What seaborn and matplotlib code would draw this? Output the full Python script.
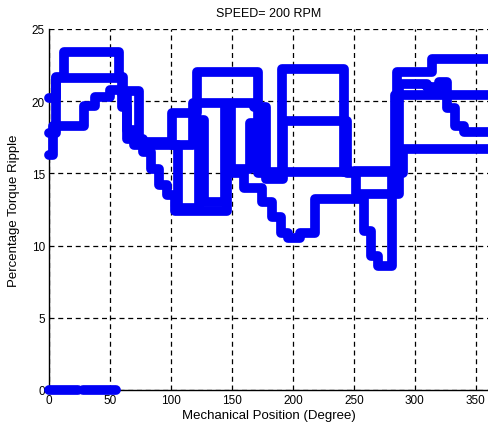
import numpy as np
import pandas as pd
import matplotlib
matplotlib.use("Agg")
import matplotlib.pyplot as plt
import seaborn as sns

# Step traces of percentage torque ripple against rotor position (degrees).
# Each pair holds the positions where the level changes and the level held from there.
upper_pos = [0, 6, 12, 57, 61, 74, 101, 121, 171, 191, 242, 285, 314, 362]
upper_val = [20.2, 21.7, 23.4, 21.7, 20.7, 17.2, 19.2, 22.0, 15.0, 22.2, 15.1, 22.0, 22.9, 22.9]

mid_pos = [0, 6, 60, 64, 70, 118, 168, 178, 192, 244, 250, 284, 362]
mid_val = [17.8, 21.6, 20.5, 18.0, 17.0, 19.9, 19.6, 14.6, 18.6, 15.0, 15.2, 20.4, 20.4]

lower_pos = [0, 3, 29, 38, 50, 60, 64, 77, 84, 90, 97, 103, 146, 160, 175, 183,
             190, 196, 206, 218, 258, 264, 270, 281, 290, 362]
lower_val = [16.3, 18.3, 19.7, 20.3, 20.8, 19.6, 17.4, 16.5, 15.3, 14.2, 13.5, 12.4, 15.0, 14.0, 13.0, 12.0,
             10.9, 10.5, 10.9, 13.2, 11.0, 9.3, 8.6, 15.0, 16.7, 16.7]

detail_pos = [101, 106, 123, 127, 144, 149, 165, 172, 244, 252, 287, 310, 320, 326, 333, 340, 362]
detail_val = [17.0, 12.6, 18.7, 13.0, 19.6, 15.3, 18.5, 15.1, 15.1, 13.6, 21.2, 21.0, 21.3, 19.5, 18.3, 17.9, 17.9]

zero_a_pos = [0, 24]
zero_a_val = [0.0, 0.0]
zero_b_pos = [28, 55]
zero_b_val = [0.0, 0.0]

traces = {
    "upper": (upper_pos, upper_val),
    "mid": (mid_pos, mid_val),
    "lower": (lower_pos, lower_val),
    "detail": (detail_pos, detail_val),
    "zero_a": (zero_a_pos, zero_a_val),
    "zero_b": (zero_b_pos, zero_b_val),
}
df = pd.concat(
    [pd.DataFrame({"pos": p, "ripple": v, "trace": k}) for k, (p, v) in traces.items()],
    ignore_index=True,
)

sns.set_style("white")
plt.rcParams["font.family"] = ["Liberation Sans", "DejaVu Sans"]

W, H = 488, 431
fig = plt.figure(figsize=(W / 100, H / 100), dpi=100)
ax = fig.add_axes([49 / W, 40 / H, 439 / W, 361 / H])

blue = "#0000f5"
sns.lineplot(data=df, x="pos", y="ripple", units="trace", estimator=None,
             drawstyle="steps-post", color=blue, linewidth=7,
             solid_capstyle="round", solid_joinstyle="round", ax=ax, legend=False)
for ln in ax.get_lines():
    ln.set_clip_on(False)
    ln.set_zorder(3)

ax.set_xlim(0, 360)
ax.set_ylim(0, 25)
ax.set_xticks(np.arange(0, 351, 50))
ax.set_yticks(np.arange(0, 26, 5))
ax.grid(True, color="black", linestyle=(0, (4, 3)), linewidth=0.9)
ax.set_axisbelow(True)

for side in ("top", "right"):
    ax.spines[side].set_visible(False)
for side in ("left", "bottom"):
    ax.spines[side].set_color("black")
    ax.spines[side].set_linewidth(1.0)
    ax.spines[side].set_zorder(2)

ax.tick_params(direction="in", length=3, width=0.8, colors="black",
               labelsize=8.5, pad=3)

ax.set_xlabel("Mechanical Position (Degree)", fontsize=9.5, color="black")
ax.set_ylabel("Percentage Torque Ripple", fontsize=9.5, color="black")
ax.xaxis.set_label_coords(0.5, -0.052)
ax.yaxis.set_label_coords(-0.066, 0.5)
ax.text(0.5, (391 - 14) / 361, "SPEED= 200 RPM", transform=ax.transAxes,
        ha="center", va="center", fontsize=9, color="black")

fig.savefig("out.png", dpi=100)
